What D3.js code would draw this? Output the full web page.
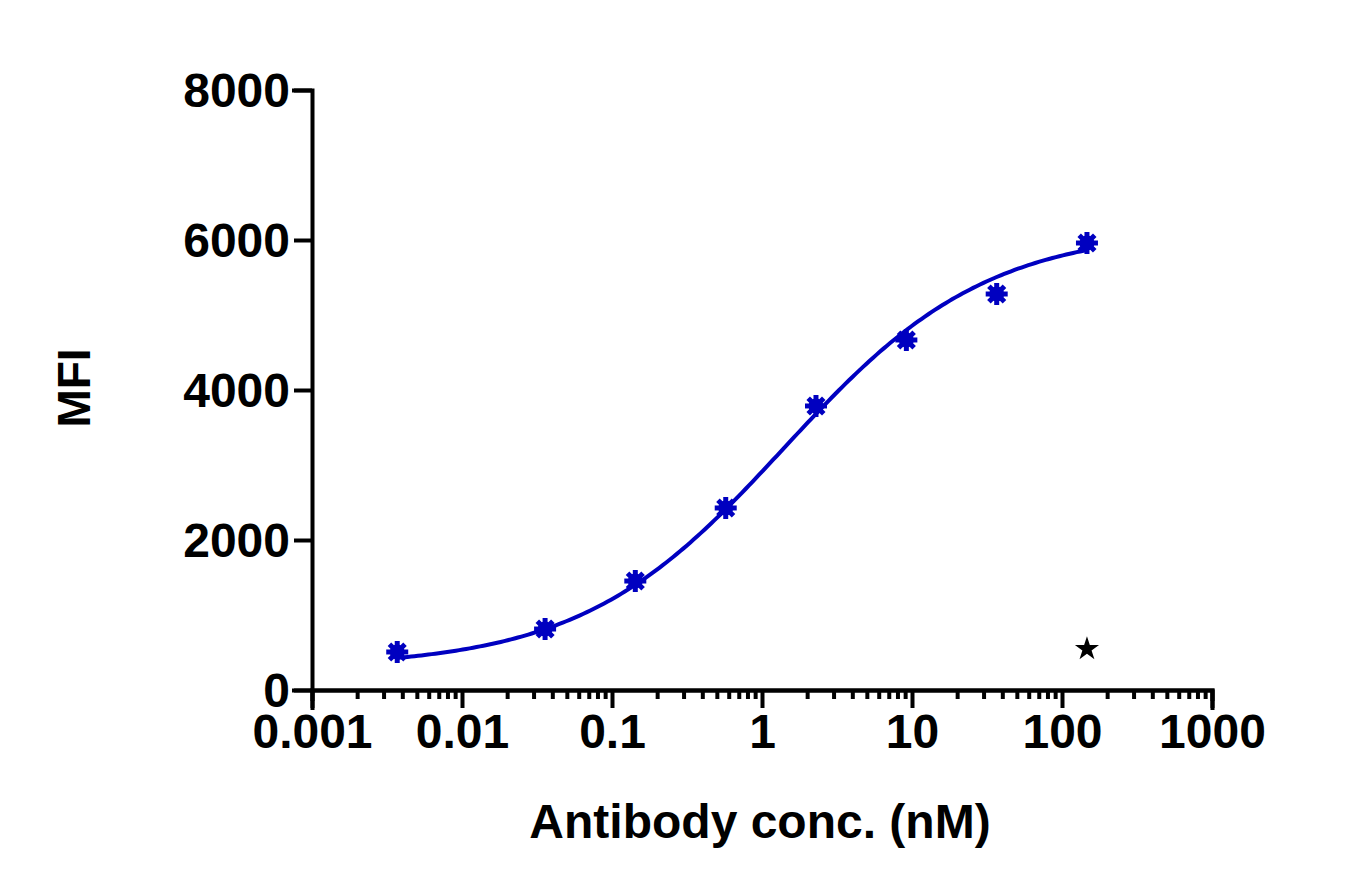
<!DOCTYPE html>
<html><head><meta charset="utf-8">
<script src="https://d3js.org/d3.v7.min.js"></script>
<style>body{margin:0;background:#fff}text{font-family:"Liberation Sans",Arial,sans-serif;font-weight:bold}</style>
</head><body>
<script>
// data
var conc = [0.0037, 0.0358, 0.143, 0.573, 2.29, 9.17, 36.7, 146.7];
var mfi = [507, 813, 1453, 2427, 3787, 4667, 5280, 5960];
// 4PL fit parameters (bottom, top, EC50, hill)
var fitBottom = 300, fitTop = 6150, fitEC50 = 1.4, fitHill = 0.64;
var yTicks = [0, 2000, 4000, 6000, 8000];
var xTicks = [0.001, 0.01, 0.1, 1, 10, 100, 1000];

var w = 1366, h = 892;
var svg = d3.select("body").append("svg").attr("width", w).attr("height", h);
var x = d3.scaleLog().domain([0.001, 1000]).range([312, 1212]);
var y = d3.scaleLinear().domain([0, 8000]).range([690, 90]);

var yAxis = svg.append("g").attr("transform", "translate(312,0)")
  .call(d3.axisLeft(y).tickValues(yTicks).tickFormat(d3.format("d")).tickSize(18).tickPadding(4));
var minor = [];
for (var e = -3; e < 3; e++) for (var k = 2; k < 10; k++) minor.push(k * Math.pow(10, e));
svg.append("g").attr("transform", "translate(0,690)")
  .call(d3.axisBottom(x).tickValues(minor).tickFormat("").tickSize(9));
var xAxis = svg.append("g").attr("transform", "translate(0,690)")
  .call(d3.axisBottom(x).tickValues(xTicks).tickFormat(d => d >= 1 ? d3.format("d")(d) : String(d)).tickSize(18).tickPadding(6));
svg.selectAll(".domain, .tick line").attr("stroke", "#000").attr("stroke-width", 4);
svg.selectAll(".domain").attr("stroke-linecap", "square");
svg.selectAll(".tick text").attr("font-size", 48).attr("fill", "#000");
yAxis.selectAll(".tick text").attr("dy", "0.35em");

svg.append("text").attr("x", 760).attr("y", 838).attr("text-anchor", "middle").attr("font-size", 48).text("Antibody conc. (nM)");
svg.append("text").attr("transform", "translate(90,388) rotate(-90)").attr("text-anchor", "middle").attr("font-size", 46).text("MFI");

var curve = d3.range(0, 201).map(function (i) {
  var c = Math.exp(Math.log(conc[0]) + i / 200 * (Math.log(conc[7]) - Math.log(conc[0])));
  return [c, fitBottom + (fitTop - fitBottom) / (1 + Math.pow(fitEC50 / c, fitHill))];
});
svg.append("path").datum(curve).attr("fill", "none").attr("stroke", "#0000c0").attr("stroke-width", 4)
  .attr("d", d3.line().x(d => x(d[0])).y(d => y(d[1])));

var pts = svg.selectAll(".pt").data(conc).enter().append("g")
  .attr("transform", (d, i) => "translate(" + x(d) + "," + y(mfi[i]) + ")");
pts.append("circle").attr("r", 7.5).attr("fill", "#0000c0");
[0, 45, 90, 135].forEach(function (a) {
  pts.append("line").attr("x1", -11).attr("x2", 11).attr("transform", "rotate(" + a + ")")
    .attr("stroke", "#0000c0").attr("stroke-width", 5);
});

svg.append("path").attr("d", d3.symbol(d3.symbolStar, 180)()).attr("fill", "#000")
  .attr("transform", "translate(" + x(146.7) + ",649)");
</script>
</body></html>
